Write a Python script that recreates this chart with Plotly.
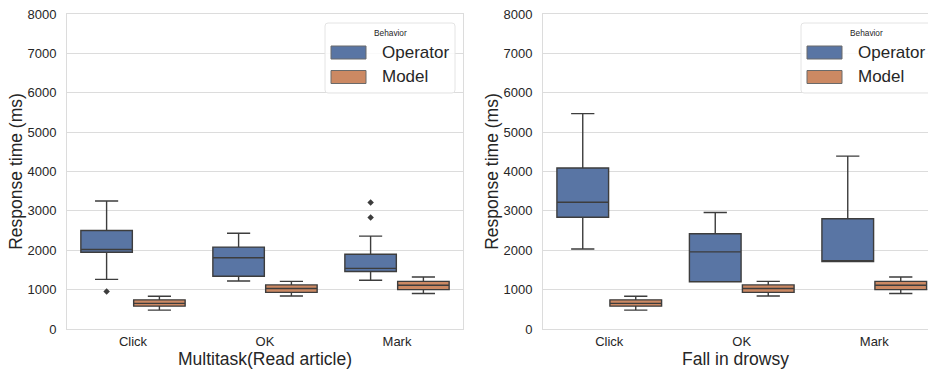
import plotly.graph_objects as go

categories = ["Click", "OK", "Mark"]
series = ["Operator", "Model"]
panel_titles = ["Multitask(Read article)", "Fall in drowsy"]
y_ticks = [0, 1000, 2000, 3000, 4000, 5000, 6000, 7000, 8000]
legend_title = "Behavior"
y_title = "Response time (ms)"

# Left panel: Multitask(Read article)
left_operator_lower = [1260, 1220, 1240]
left_operator_q1 = [1950, 1340, 1460]
left_operator_median = [2020, 1810, 1540]
left_operator_q3 = [2500, 2080, 1900]
left_operator_upper = [3250, 2430, 2360]
left_operator_outliers = [[950], [], [3210, 2830]]

left_model_lower = [480, 840, 900]
left_model_q1 = [580, 930, 1000]
left_model_median = [650, 1030, 1110]
left_model_q3 = [740, 1120, 1210]
left_model_upper = [830, 1210, 1320]
left_model_outliers = [[], [], []]

# Right panel: Fall in drowsy
right_operator_lower = [2030, 1200, 1710]
right_operator_q1 = [2840, 1200, 1710]
right_operator_median = [3220, 1960, 1710]
right_operator_q3 = [4090, 2420, 2800]
right_operator_upper = [5470, 2960, 4390]
right_operator_outliers = [[], [], []]

right_model_lower = [480, 840, 900]
right_model_q1 = [580, 930, 1000]
right_model_median = [650, 1030, 1110]
right_model_q3 = [740, 1120, 1210]
right_model_upper = [830, 1210, 1320]
right_model_outliers = [[], [], []]

# ---- styling ----
W, H = 928, 370
M_T, M_B = 14, 41
PLOT_H = H - M_T - M_B
FONT = "Liberation Sans, Arial, sans-serif"
TEXT = "#262626"
EDGE = "#3d3d3d"
GRID = "#dcdcdc"
FILLS = {"Operator": "#5975a4", "Model": "#cc8963"}
OFFSETS = {"Operator": -0.2, "Model": 0.2}

panels = [
    dict(op=(left_operator_lower, left_operator_q1, left_operator_median,
             left_operator_q3, left_operator_upper, left_operator_outliers),
         mo=(left_model_lower, left_model_q1, left_model_median,
             left_model_q3, left_model_upper, left_model_outliers),
         xa="x", ya="y"),
    dict(op=(right_operator_lower, right_operator_q1, right_operator_median,
             right_operator_q3, right_operator_upper, right_operator_outliers),
         mo=(right_model_lower, right_model_q1, right_model_median,
             right_model_q3, right_model_upper, right_model_outliers),
         xa="x2", ya="y2"),
]

fig = go.Figure()
for p in panels:
    for name, key in (("Operator", "op"), ("Model", "mo")):
        lo, q1, med, q3, up, outl = p[key]
        xs = [i + OFFSETS[name] for i in range(len(categories))]
        fig.add_trace(go.Box(
            x=xs, q1=q1, median=med, q3=q3, lowerfence=lo, upperfence=up,
            name=name, width=0.39, whiskerwidth=0.45,
            fillcolor=FILLS[name], line=dict(color=EDGE, width=1.4),
            boxpoints=False, showlegend=False, xaxis=p["xa"], yaxis=p["ya"]))
        ox, oy = [], []
        for i, vals in enumerate(outl):
            for v in vals:
                ox.append(xs[i])
                oy.append(v)
        if ox:
            fig.add_trace(go.Scatter(
                x=ox, y=oy, mode="markers", showlegend=False,
                marker=dict(symbol="diamond", size=5, color=EDGE),
                xaxis=p["xa"], yaxis=p["ya"]))

def fx(px):
    return px / W

def fy(py):
    return (H - M_B - py) / PLOT_H

shapes = []
annotations = []
for dx in (0, 476):
    x0, x1, y0, y1, r = 325 + dx, 455 + dx, 23, 93, 3
    path = (f"M {fx(x0 + r)} {fy(y0)} L {fx(x1 - r)} {fy(y0)} "
            f"Q {fx(x1)} {fy(y0)} {fx(x1)} {fy(y0 + r)} L {fx(x1)} {fy(y1 - r)} "
            f"Q {fx(x1)} {fy(y1)} {fx(x1 - r)} {fy(y1)} L {fx(x0 + r)} {fy(y1)} "
            f"Q {fx(x0)} {fy(y1)} {fx(x0)} {fy(y1 - r)} L {fx(x0)} {fy(y0 + r)} "
            f"Q {fx(x0)} {fy(y0)} {fx(x0 + r)} {fy(y0)} Z")
    shapes.append(dict(type="path", path=path, xref="paper", yref="paper",
                       fillcolor="rgba(255,255,255,0.85)",
                       line=dict(color="#e4e4e4", width=1)))
    annotations.append(dict(text=legend_title, x=fx(390 + dx), y=fy(33),
                            xref="paper", yref="paper", showarrow=False,
                            xanchor="center", yanchor="middle",
                            font=dict(family=FONT, size=8.3, color=TEXT)))
    for j, name in enumerate(series):
        py0 = 46 + j * 24.5
        shapes.append(dict(type="rect", xref="paper", yref="paper",
                           x0=fx(331 + dx), x1=fx(366 + dx),
                           y0=fy(py0), y1=fy(py0 + 13),
                           fillcolor=FILLS[name],
                           line=dict(color="#6a6a6a", width=1)))
        annotations.append(dict(text=name, x=fx(380 + dx), y=fy(py0 + 6.5),
                                xref="paper", yref="paper", showarrow=False,
                                xanchor="left", yanchor="middle",
                                font=dict(family=FONT, size=17, color=TEXT)))

xcommon = dict(tickmode="array", tickvals=list(range(len(categories))),
               ticktext=categories, showgrid=False, zeroline=False,
               showline=True, linecolor=GRID, linewidth=1, mirror=True,
               ticks="", automargin=False,
               tickfont=dict(family=FONT, size=13, color=TEXT),
               fixedrange=True)
ycommon = dict(range=[0, 8000], tickmode="array", tickvals=y_ticks,
               showgrid=True, gridcolor=GRID, gridwidth=1, zeroline=False,
               showline=True, linecolor=GRID, linewidth=1,
               ticks="", ticklabelstandoff=7, automargin=False,
               tickfont=dict(family=FONT, size=13, color=TEXT),
               title=dict(text=y_title, standoff=0,
                          font=dict(family=FONT, size=17.5, color=TEXT)),
               fixedrange=True)
xtitle_font = dict(family=FONT, size=17.5, color=TEXT)

fig.update_layout(
    width=W, height=H,
    margin=dict(l=0, r=0, t=M_T, b=M_B),
    paper_bgcolor="white", plot_bgcolor="white",
    showlegend=False,
    xaxis=dict(xcommon, domain=[fx(67), fx(463)], range=[-0.5, 2.5],
               title=dict(text=panel_titles[0], standoff=2, font=xtitle_font),
               anchor="y"),
    xaxis2=dict(xcommon, domain=[fx(543), 1.0],
                range=[-0.5, -0.5 + (W - 543) / 132.5],
                title=dict(text=panel_titles[1], standoff=2, font=xtitle_font),
                anchor="y2"),
    yaxis=dict(ycommon, mirror=True, anchor="x"),
    yaxis2=dict(ycommon, anchor="x2"),
    shapes=shapes,
    annotations=annotations,
)

fig.write_html(
    "out.html",
    config={"displayModeBar": False},
    post_script="document.body.style.margin='0';document.body.style.overflow='hidden';",
)
